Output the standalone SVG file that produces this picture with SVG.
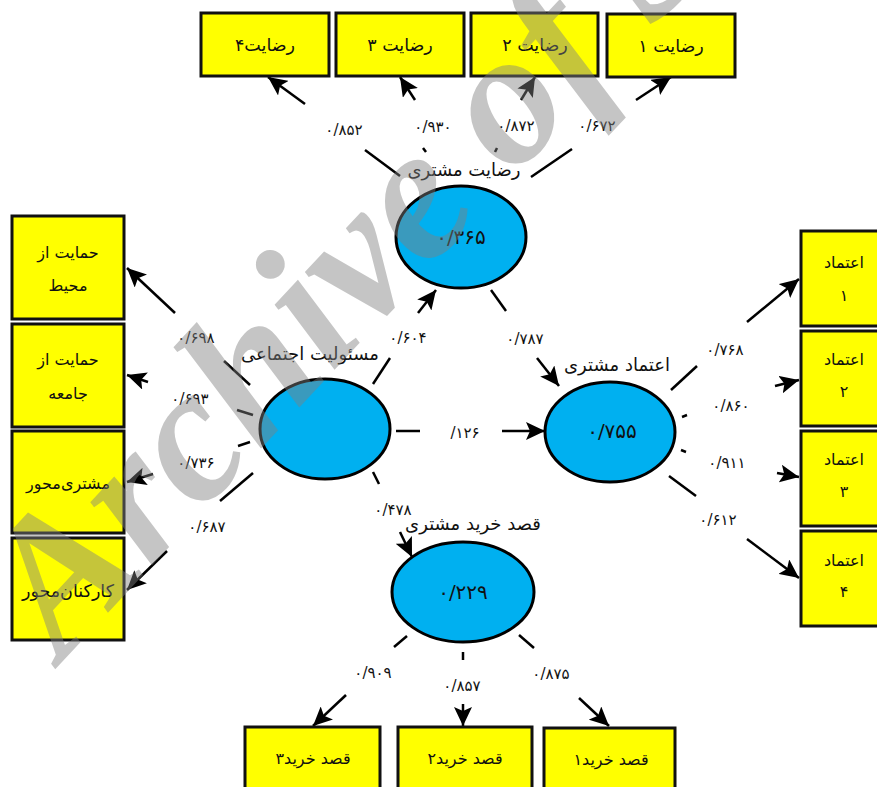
<svg xmlns="http://www.w3.org/2000/svg" width="877" height="787" viewBox="0 0 877 787">
<style>
text{font-family:"DejaVu Sans","Noto Sans",sans-serif;fill:#111;text-anchor:middle}
.box{fill:#ffff00;stroke:#111;stroke-width:3}
.ell{fill:#00b0f0;stroke:#000;stroke-width:3}
.bt{font-size:16px}
.tp{font-size:17.5px}
.ot{font-size:18px}
.val{font-size:20px}
.lab{font-size:15px}
.ln{fill:none;stroke:#000;stroke-width:2.5}
.ar{marker-end:url(#ah)}
.wm{font-family:"Liberation Serif",serif;font-style:italic;font-weight:bold;font-size:192px;word-spacing:-5px;fill:#7f7f7f;fill-opacity:.455;text-anchor:start}
</style>
<defs><marker id="ah" markerUnits="userSpaceOnUse" markerWidth="20" markerHeight="18" refX="19" refY="9" orient="auto"><path d="M0 0L19 9L0 18L4 9Z" fill="#000"/></marker></defs>
<rect width="877" height="787" fill="#fff"/>
<g id="connectors">
<path class="ln ar" d="M305 104L268 77"/><path class="ln" d="M365 150L400 176"/>
<path class="ln ar" d="M415 100L400 77"/><path class="ln" d="M423 148L426 152"/>
<path class="ln ar" d="M521 100L535 77"/><path class="ln" d="M497 148L495 152"/>
<path class="ln ar" d="M636 100L671 77"/><path class="ln" d="M531 177L572 149"/>
<path class="ln ar" d="M175 313L127 268"/><path class="ln" d="M224 361L250 385"/>
<path class="ln ar" d="M148 382L127 375"/><path class="ln" d="M237 410L253 415"/>
<path class="ln ar" d="M153 474L127 482"/><path class="ln" d="M238 446L250 442"/>
<path class="ln ar" d="M167 551L127 590"/><path class="ln" d="M220 501L253 473"/>
<path class="ln ar" d="M418 313L436 290"/><path class="ln" d="M373 384L390 358"/>
<path class="ln ar" d="M537 358L559 386"/><path class="ln" d="M491 290L506 311"/>
<path class="ln ar" d="M502 431L545 431"/><path class="ln" d="M396 431L420 431"/>
<path class="ln ar" d="M400 532L412 557"/><path class="ln" d="M373 472L379 484"/>
<path class="ln ar" d="M747 322L799 279"/><path class="ln" d="M671 390L697 366"/>
<path class="ln ar" d="M775 386L799 380"/><path class="ln" d="M682 417L687 415"/>
<path class="ln ar" d="M777 473L799 477"/><path class="ln" d="M681 450L686 452"/>
<path class="ln ar" d="M747 539L799 578"/><path class="ln" d="M669 476L696 496"/>
<path class="ln ar" d="M346 695L313 726"/><path class="ln" d="M407 636L394 647"/>
<path class="ln ar" d="M463 704L463 726"/><path class="ln" d="M463 652L463 660"/>
<path class="ln ar" d="M579 698L609 726"/><path class="ln" d="M519 635L534 648"/>
</g>
<g id="labels">
<text class="lab" x="344" y="135">۰/۸۵۲</text><text class="lab" x="433" y="132">۰/۹۳۰</text><text class="lab" x="516" y="131">۰/۸۷۲</text><text class="lab" x="597" y="131">۰/۶۷۲</text>
<text class="lab" x="196" y="343">۰/۶۹۸</text><text class="lab" x="190" y="404">۰/۶۹۳</text><text class="lab" x="196" y="468">۰/۷۳۶</text><text class="lab" x="207" y="532">۰/۶۸۷</text>
<text class="lab" x="408" y="343">۰/۶۰۴</text><text class="lab" x="525" y="344">۰/۷۸۷</text><text class="lab" x="465" y="438">/۱۲۶</text><text class="lab" x="393" y="515">۰/۴۷۸</text>
<text class="lab" x="725" y="355">۰/۷۶۸</text><text class="lab" x="731" y="411">۰/۸۶۰</text><text class="lab" x="727" y="468">۰/۹۱۱</text><text class="lab" x="718" y="525">۰/۶۱۲</text>
<text class="lab" x="373" y="678">۰/۹۰۹</text><text class="lab" x="462" y="691">۰/۸۵۷</text><text class="lab" x="551" y="679">۰/۸۷۵</text>
</g>
<g id="n-s4"><rect class="box" x="201" y="13" width="128" height="63"/><text class="tp" x="265" y="51">رضایت۴</text></g>
<g id="n-s3"><rect class="box" x="336" y="13" width="128" height="63"/><text class="tp" x="400" y="51">رضایت ۳</text></g>
<g id="n-s2"><rect class="box" x="471" y="13" width="127" height="63"/><text class="tp" x="535" y="51">رضایت ۲</text></g>
<g id="n-s1"><rect class="box" x="607" y="14" width="128" height="63"/><text class="tp" x="671" y="52">رضایت ۱</text></g>
<g id="n-c1"><rect class="box" x="12" y="216" width="112" height="103"/><text class="bt" x="68" y="258">حمایت از</text><text class="bt" x="68" y="291">محیط</text></g>
<g id="n-c2"><rect class="box" x="12" y="324" width="112" height="103"/><text class="bt" x="68" y="365">حمایت از</text><text class="bt" x="68" y="399">جامعه</text></g>
<g id="n-c3"><rect class="box" x="12" y="431" width="112" height="102"/><text class="bt" x="68" y="489">مشتری‌محور</text></g>
<g id="n-c4"><rect class="box" x="12" y="538" width="112" height="102"/><text class="tp" x="68" y="597">کارکنان‌محور</text></g>
<g id="n-t1"><rect class="box" x="801" y="231" width="80" height="95"/><text class="bt" x="844" y="268">اعتماد</text><text class="bt" x="844" y="301">۱</text></g>
<g id="n-t2"><rect class="box" x="801" y="331" width="80" height="95"/><text class="bt" x="844" y="365">اعتماد</text><text class="bt" x="844" y="397">۲</text></g>
<g id="n-t3"><rect class="box" x="801" y="431" width="80" height="95"/><text class="bt" x="844" y="465">اعتماد</text><text class="bt" x="844" y="497">۳</text></g>
<g id="n-t4"><rect class="box" x="801" y="531" width="80" height="95"/><text class="bt" x="844" y="566">اعتماد</text><text class="bt" x="844" y="597">۴</text></g>
<g id="n-p3"><rect class="box" x="245" y="727" width="135" height="65"/><text class="bt" x="313" y="764">قصد خرید۳</text></g>
<g id="n-p2"><rect class="box" x="398" y="727" width="134" height="65"/><text class="bt" x="465" y="764">قصد خرید۲</text></g>
<g id="n-p1"><rect class="box" x="544" y="728" width="131" height="65"/><text class="bt" x="611" y="765">قصد خرید۱</text></g>
<g id="n-sat"><ellipse class="ell" cx="461" cy="237" rx="65" ry="51"/><text class="ot" x="464" y="176">رضایت مشتری</text><text class="val" x="461" y="244">۰/۳۶۵</text></g>
<g id="n-csr"><ellipse class="ell" cx="325" cy="429" rx="65" ry="50"/><text class="ot" x="310" y="360">مسئولیت اجتماعی</text></g>
<g id="n-tru"><ellipse class="ell" cx="610" cy="432" rx="65" ry="50"/><text class="ot" x="617" y="371">اعتماد مشتری</text><text class="val" x="612" y="438">۰/۷۵۵</text></g>
<g id="n-pur"><ellipse class="ell" cx="463" cy="592" rx="71" ry="50"/><text class="ot" x="473" y="530">قصد خرید مشتری</text><text class="val" x="463" y="599">۰/۲۲۹</text></g>
<text class="wm" transform="translate(62 662) rotate(-47)">Archive of S</text>
</svg>
